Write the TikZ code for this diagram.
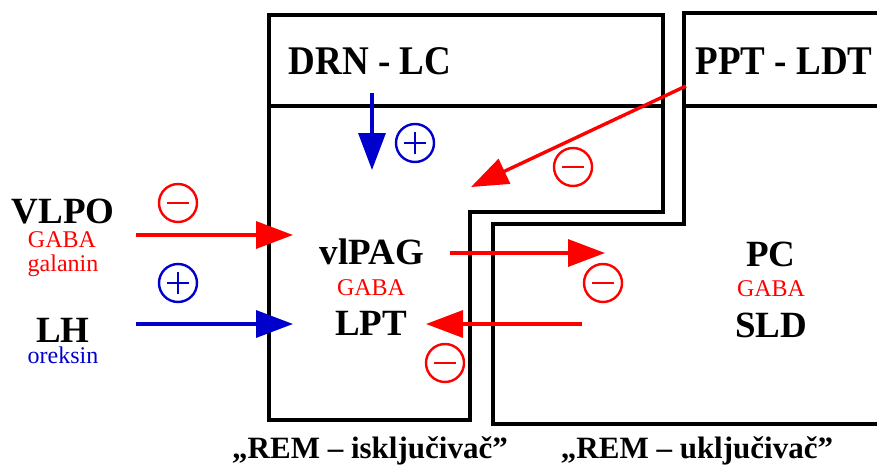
\documentclass[tikz,border=0pt]{standalone}
\usepackage{fontspec}
\setmainfont{Liberation Serif}
\usetikzlibrary{arrows.meta}
\definecolor{myred}{RGB}{255,0,0}
\definecolor{myblue}{RGB}{0,0,204}
\newcommand\tallbox[1]{\scalebox{1}[1.1]{#1}}
\tikzset{
  box/.style={line width=3.2pt, line join=miter},
  big/.style={anchor=base, inner sep=0pt, text depth=0pt, font=\fontsize{37}{40}\selectfont\bfseries},
  bottomlbl/.style={anchor=base, inner sep=0pt, font=\fontsize{31}{34}\selectfont\bfseries},
  small/.style={anchor=base, inner sep=0pt, font=\fontsize{24}{26}\selectfont},
  conn/.style={line width=3.4pt, -{Triangle[length=37pt,width=27pt]}},
  sign/.style={circle, draw, line width=2.4pt, minimum size=38pt, inner sep=0pt},
  minussign/.style={sign, path picture={
      \draw[line width=2.4pt] ([xshift=-11pt]path picture bounding box.center) -- ([xshift=11pt]path picture bounding box.center);}},
  plussign/.style={sign, path picture={
      \draw[line width=2.4pt] ([xshift=-11pt]path picture bounding box.center) -- ([xshift=11pt]path picture bounding box.center);
      \draw[line width=2.4pt] ([yshift=-11pt]path picture bounding box.center) -- ([yshift=11pt]path picture bounding box.center);}},
}
\begin{document}
\begin{tikzpicture}[x=1pt,y=-1pt]
\useasboundingbox (0,0) rectangle (877,468);
\clip (0,0) rectangle (877,468);
% boxes
\draw[box] (269,15) -- (663,15) -- (663,212) -- (470,212) -- (470,420) -- (269,420) -- cycle;
\draw[box] (269,106) -- (663,106);
\draw[box] (890,13) -- (684,13) -- (684,224) -- (493,224) -- (493,424) -- (890,424);
\draw[box] (684,106) -- (890,106);
% labels
\node[big] (drn) at (370,75) {\tallbox{DRN - LC}};
\node[big] (ppt) at (784,75) {\tallbox{PPT - LDT}};
\node[big] (vlpo) at (63,223) {VLPO};
\node[small, text=myred] (vlpogaba) at (62,247) {GABA};
\node[small, text=myred] (galanin) at (63,271) {galanin};
\node[big] (lh) at (63,342) {LH};
\node[small, text=myblue] (oreksin) at (63,363) {oreksin};
\node[big] (vlpag) at (372,264) {vlPAG};
\node[small, text=myred] (gaba1) at (371,295) {GABA};
\node[big] (lpt) at (371,335) {LPT};
\node[big] (pc) at (771,266) {PC};
\node[small, text=myred] (gaba2) at (771,296) {GABA};
\node[big] (sld) at (771,337) {SLD};
\node[bottomlbl] (off) at (370,458) {„REM – isključivač”};
\node[bottomlbl] (on) at (697,458) {„REM – uključivač”};
% connector end points
\coordinate (vlpoS) at (136,235);
\coordinate (vlpoE) at (293,235);
\coordinate (lhS) at (136,324);
\coordinate (lhE) at (293,324);
\coordinate (drnS) at (372,93);
\coordinate (drnE) at (372,170);
\coordinate (pptS) at (686,86);
\coordinate (pptE) at (471,187);
\coordinate (pagS) at (450,253);
\coordinate (pagE) at (605,253);
\coordinate (sldS) at (582,324);
\coordinate (sldE) at (426,324);
% connectors
\draw[conn, myred] (vlpoS) -- (vlpoE);
\draw[conn, myblue] (lhS) -- (lhE);
\draw[conn, myblue] (drnS) -- (drnE);
\draw[conn, myred] (pptS) -- (pptE);
\draw[conn, myred] (pagS) -- (pagE);
\draw[conn, myred] (sldS) -- (sldE);
% signs
\node[minussign, myred] (s1) at (178,203) {};
\node[plussign, myblue] (s2) at (178,283) {};
\node[plussign, myblue] (s3) at (415,143) {};
\node[minussign, myred] (s4) at (573,167) {};
\node[minussign, myred] (s5) at (603,283) {};
\node[minussign, myred] (s6) at (445,363) {};
\end{tikzpicture}
\end{document}
